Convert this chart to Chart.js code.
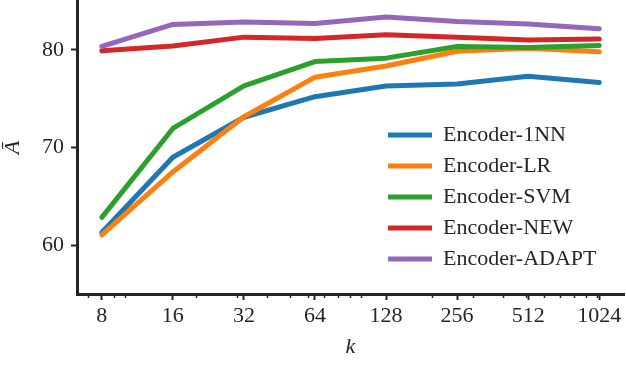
<!DOCTYPE html>
<html>
<head>
<meta charset="utf-8">
<script src="https://cdn.jsdelivr.net/npm/chart.js@4"></script>
<style>
  html, body { margin: 0; padding: 0; background: #ffffff; }
  #wrap { width: 626px; height: 384px; position: relative; }
</style>
</head>
<body>
<div id="wrap"><canvas id="c" width="626" height="384"></canvas></div>
<script>
// ---- data ----
const kValues = [8, 16, 32, 64, 128, 256, 512, 1024];
const seriesNames = ['Encoder-1NN', 'Encoder-LR', 'Encoder-SVM', 'Encoder-NEW', 'Encoder-ADAPT'];
const enc1NN   = [61.3, 69.0, 73.1, 75.2, 76.3, 76.5, 77.3, 76.65];
const encLR    = [61.05, 67.5, 73.15, 77.2, 78.35, 79.85, 80.15, 79.8];
const encSVM   = [62.85, 71.95, 76.3, 78.8, 79.15, 80.35, 80.25, 80.45];
const encNEW   = [79.9, 80.4, 81.3, 81.15, 81.55, 81.3, 81.0, 81.1];
const encADAPT = [80.35, 82.6, 82.85, 82.7, 83.35, 82.9, 82.65, 82.15];
const yTickValues = [60, 70, 80];
const xMinorTickValues = [7, 9, 10, 20, 30, 40, 50, 60, 70, 80, 90, 100, 200, 300, 400, 500, 600, 700, 800, 900, 1000];

const seriesValues = [enc1NN, encLR, encSVM, encNEW, encADAPT];
const seriesColors = ['#1f77b4', '#ff7f0e', '#2ca02c', '#d62728', '#9467bd'];

const axisColor = '#262626';
const serif = "'Liberation Serif', 'DejaVu Serif', serif";

const datasets = seriesNames.map((name, i) => ({
  label: name,
  data: kValues.map((k, j) => ({ x: k, y: seriesValues[i][j] })),
  borderColor: seriesColors[i],
  backgroundColor: seriesColors[i],
  borderWidth: 5,
  borderCapStyle: 'round',
  borderJoinStyle: 'round',
  pointRadius: 0,
  pointHoverRadius: 0,
  tension: 0,
  fill: false,
  order: seriesNames.length - i
}));

// draw minor x ticks through the x scale
const minorTicks = {
  id: 'minorTicks',
  afterDraw(chart) {
    const xs = chart.scales.x;
    const ctx = chart.ctx;
    const bottom = chart.chartArea.bottom;
    ctx.save();
    ctx.strokeStyle = axisColor;
    ctx.lineWidth = 1.5;
    xMinorTickValues.forEach(v => {
      if (v < xs.min || v > xs.max) return;
      const px = Math.round(xs.getPixelForValue(v)) + 0.5;
      ctx.beginPath();
      ctx.moveTo(px, bottom + 1);
      ctx.lineTo(px, bottom + 4);
      ctx.stroke();
    });
    ctx.restore();
  }
};

// place the legend box inside the plot, lower right
const legendPlace = {
  id: 'legendPlace',
  afterLayout(chart) {
    const lg = chart.legend;
    if (!lg) return;
    const w = lg.width, h = lg.height;
    lg.left = 379;
    lg.top = 115;
    lg.right = lg.left + w;
    lg.bottom = lg.top + h;
  }
};

new Chart(document.getElementById('c'), {
  type: 'line',
  data: { datasets },
  options: {
    responsive: false,
    animation: false,
    layout: { padding: { top: 1, right: 2, left: 0, bottom: 0 } },
    plugins: {
      legend: {
        position: 'chartArea',
        align: 'start',
        labels: {
          usePointStyle: true,
          pointStyle: 'line',
          pointStyleWidth: 44,
          padding: 9,
          color: axisColor,
          font: { family: serif, size: 22 },
          sort: (a, b) => a.datasetIndex - b.datasetIndex
        }
      },
      tooltip: { enabled: false }
    },
    scales: {
      x: {
        type: 'logarithmic',
        min: 6.28,
        max: 1304,
        afterBuildTicks: (scale) => { scale.ticks = kValues.map(v => ({ value: v })); },
        afterFit: (scale) => {
          scale.height = 90;
          scale.paddingLeft = 0;
          scale.paddingRight = 0;
        },
        ticks: {
          color: axisColor,
          font: { family: serif, size: 22 },
          padding: 3,
          autoSkip: false,
          maxRotation: 0,
          callback: (v) => String(v)
        },
        grid: {
          display: true,
          drawOnChartArea: false,
          drawTicks: true,
          tickLength: 6,
          tickWidth: 2,
          tickColor: axisColor
        },
        border: { display: true, color: axisColor, width: 3 },
        title: {
          display: true,
          text: 'k',
          color: axisColor,
          font: { family: serif, size: 22, style: 'italic' },
          padding: { top: 0, bottom: 24 }
        }
      },
      y: {
        type: 'linear',
        min: 55,
        max: 85,
        afterBuildTicks: (scale) => { scale.ticks = yTickValues.map(v => ({ value: v })); },
        afterFit: (scale) => {
          scale.width = 77;
          scale.paddingTop = 0;
          scale.paddingBottom = 0;
        },
        ticks: {
          color: axisColor,
          font: { family: serif, size: 22 },
          padding: 7,
          callback: (v) => String(v)
        },
        grid: {
          display: true,
          drawOnChartArea: false,
          drawTicks: true,
          tickLength: 6,
          tickWidth: 2,
          tickColor: axisColor
        },
        border: { display: true, color: axisColor, width: 3 },
        title: {
          display: true,
          text: 'Ā',
          color: axisColor,
          font: { family: serif, size: 22, style: 'italic' },
          padding: { top: 0, bottom: 0 }
        }
      }
    }
  },
  plugins: [minorTicks, legendPlace]
});
</script>
</body>
</html>
